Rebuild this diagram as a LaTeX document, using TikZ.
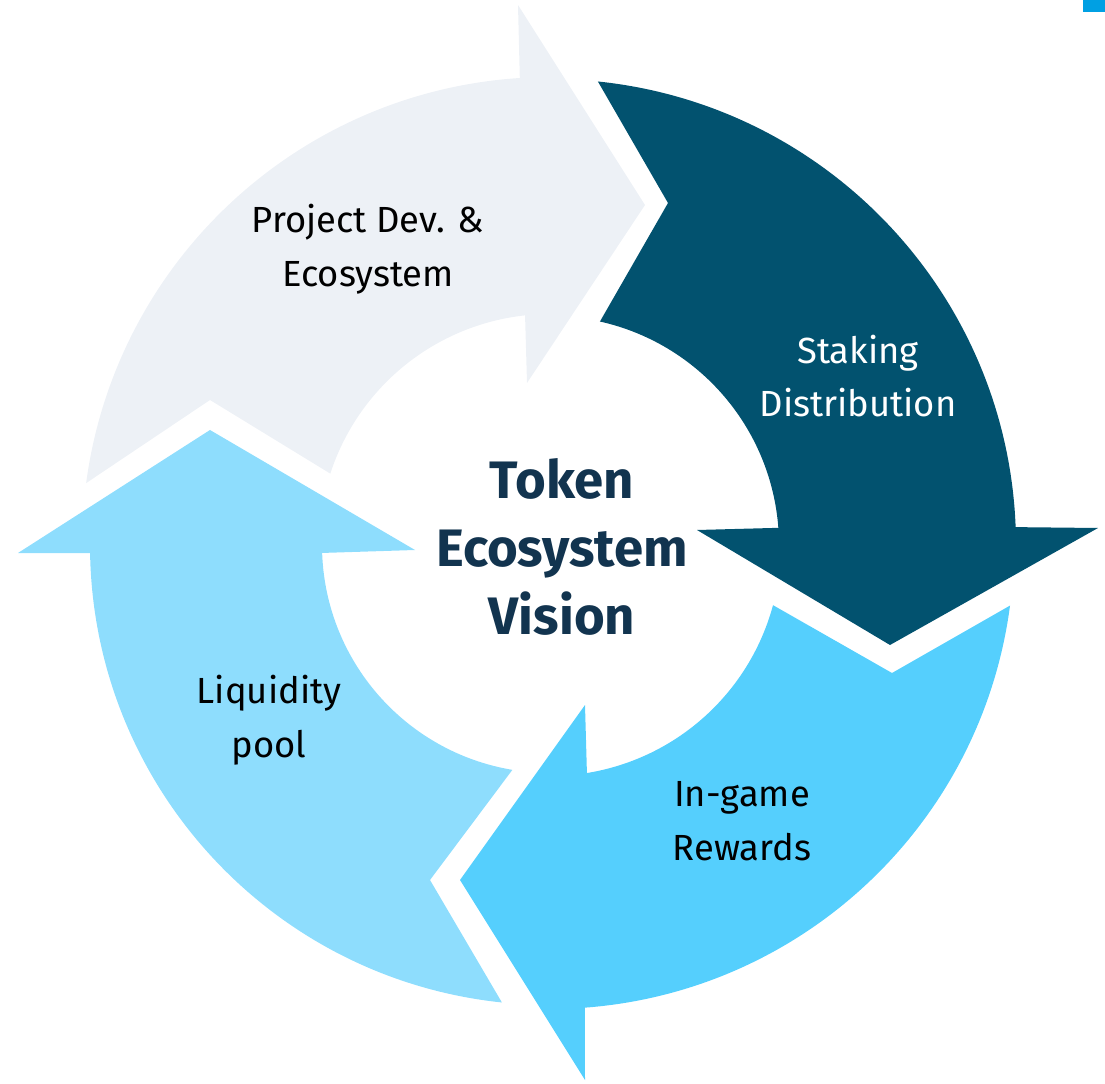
\documentclass[tikz,border=0pt]{standalone}
\usepackage{fontspec}
\setmainfont{Fira Sans}
\definecolor{devgray}{HTML}{EDF1F6}
\definecolor{stakeblue}{HTML}{02526F}
\definecolor{gamecyan}{HTML}{55CFFD}
\definecolor{poolblue}{HTML}{8EDDFD}
\definecolor{titlenavy}{HTML}{12344F}
\definecolor{cornerblue}{HTML}{00A0E3}
\begin{document}
\begin{tikzpicture}[x=0.02cm,y=0.02cm,
  label/.style={align=center, inner sep=0pt, font=\fontsize{20.7}{30.5}\selectfont},
  title/.style={align=center, inner sep=0pt, text=titlenavy,
    font=\fontsize{30}{38.5}\selectfont\bfseries}]
\useasboundingbox (0,0) rectangle (1105,1083);
\fill[cornerblue] (1083,1071) rectangle (1105,1083);

% four curved arrows around a common centre
\begin{scope}[shift={(550,538)}]
  % Project Dev. & Ecosystem
  \fill[devgray] (172.4:468) arc[start angle=172.4, end angle=93.7, radius=468]
    -- (-32,540) -- (95,340) -- (-23,162)
    -- (96.2:231) arc[start angle=96.2, end angle=162, radius=231]
    -- (-340,145) -- cycle;
  % Staking Distribution
  \fill[stakeblue] (84.1:466) arc[start angle=84.1, end angle=2.2, radius=466]
    -- (548,17) -- (340,-100) -- (147,15)
    -- (4.3:229) arc[start angle=4.3, end angle=77.4, radius=229]
    -- (118,342) -- cycle;
  % In-game Rewards
  \fill[gamecyan] (-7.5:464) arc[start angle=-7.5, end angle=-85.7, radius=464]
    -- (35,-535) -- (-90,-335) -- (35,-160)
    -- (-80.8:231) arc[start angle=-80.8, end angle=-15.1, radius=231]
    -- (342,-128) -- cycle;
  % Liquidity pool
  \fill[poolblue] (-96:460) arc[start angle=-96, end angle=-179, radius=460]
    -- (-532,-8) -- (-340,115) -- (-135,-5)
    -- (-178:228) arc[start angle=-178, end angle=-99.5, radius=228]
    -- (-120,-335) -- cycle;
\end{scope}

\node[label] (dev) at (368,834) {Project Dev. \&\\Ecosystem};
\node[label, text=white] (stake) at (858,707) {Staking\\Distribution};
\node[label] (game) at (742,262) {In-game\\Rewards};
\node[label] (pool) at (269,363) {Liquidity\\pool};
\node[title] (vision) at (562,536) {Token\\Ecosystem\\Vision};
\end{tikzpicture}
\end{document}
